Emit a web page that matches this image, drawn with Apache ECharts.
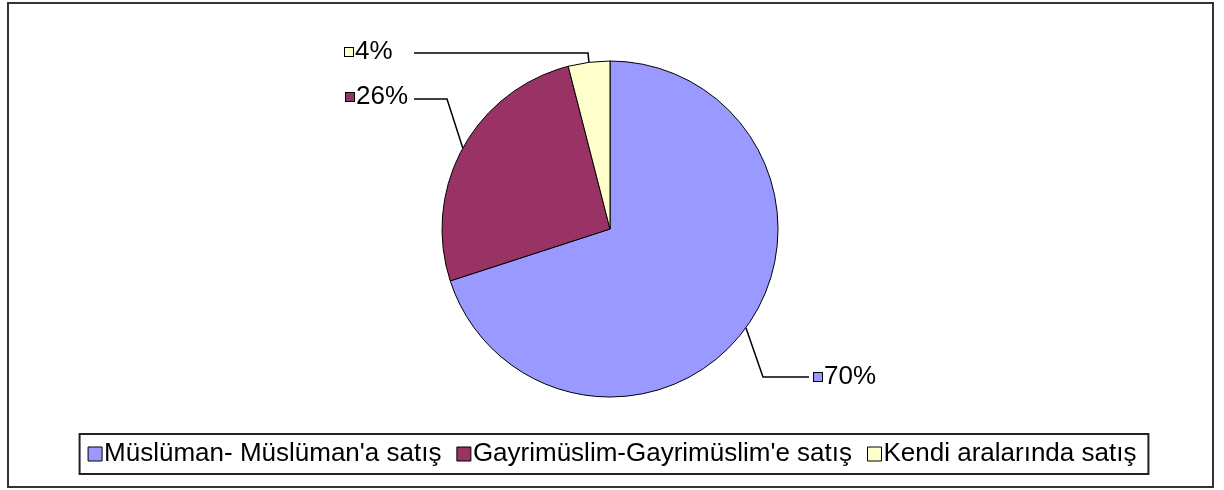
<!DOCTYPE html>
<html>
<head>
<meta charset="utf-8">
<script src="https://cdn.jsdelivr.net/npm/echarts@6/dist/echarts.min.js"></script>
<style>
  html, body { margin: 0; padding: 0; background: #fff; }
  #chart { width: 1224px; height: 490px; }
</style>
</head>
<body>
<div id="chart"></div>
<script>
// data
const categories = ['Müslüman- Müslüman\'a satış', 'Gayrimüslim-Gayrimüslim\'e satış', 'Kendi aralarında satış'];
const shares = [70, 26, 4];
const colors = ['#9999FF', '#993366', '#FFFFCC'];

// where each label sits and where its leader line bends
const labelSpots = [
  { x: 814, y: 377, bend: [763, 377], end: [809, 377] },
  { x: 346, y: 97, bend: [447, 99], end: [414, 99] },
  { x: 345, y: 52, bend: [588, 53], end: [414, 53] }
];

const rich = { t: { fontSize: 26, fontFamily: 'Liberation Sans', color: '#000', padding: [0, 0, 0, 2] } };
colors.forEach((c, i) => {
  rich['k' + i] = { width: 8, height: 8, backgroundColor: c, borderColor: '#000', borderWidth: 1 };
});

const chart = echarts.init(document.getElementById('chart'));
chart.setOption({
  animation: false,
  color: colors,
  graphic: [{
    type: 'rect',
    shape: { x: 8, y: 3, width: 1205, height: 484 },
    style: { fill: 'none', stroke: '#333', lineWidth: 2 }
  }],
  legend: {
    bottom: 16,
    left: 'center',
    icon: 'rect',
    itemWidth: 14,
    itemHeight: 14,
    itemGap: 15,
    padding: [7, 12, 7, 8],
    borderColor: '#222',
    borderWidth: 2,
    itemStyle: { borderColor: '#000', borderWidth: 1 },
    textStyle: { fontSize: 26, fontFamily: 'Liberation Sans', color: '#000', padding: [0, 0, 0, -3] },
    data: categories
  },
  series: [{
    type: 'pie',
    center: [610, 229],
    radius: 168,
    startAngle: 90,
    clockwise: true,
    percentPrecision: 0,
    itemStyle: { borderColor: '#000', borderWidth: 1 },
    emphasis: { disabled: true },
    label: {
      position: 'outside',
      formatter: p => `{k${p.dataIndex}|}{t|${p.percent}%}`,
      rich: rich
    },
    labelLine: { show: true, lineStyle: { color: '#000', width: 1.5 } },
    labelLayout: params => {
      const s = labelSpots[params.dataIndex];
      const p0 = params.labelLinePoints[0];
      return {
        x: s.x,
        y: s.y,
        align: 'left',
        verticalAlign: 'middle',
        labelLinePoints: [p0, s.bend, s.end]
      };
    },
    data: categories.map((name, i) => ({ name: name, value: shares[i] }))
  }]
});
</script>
</body>
</html>
